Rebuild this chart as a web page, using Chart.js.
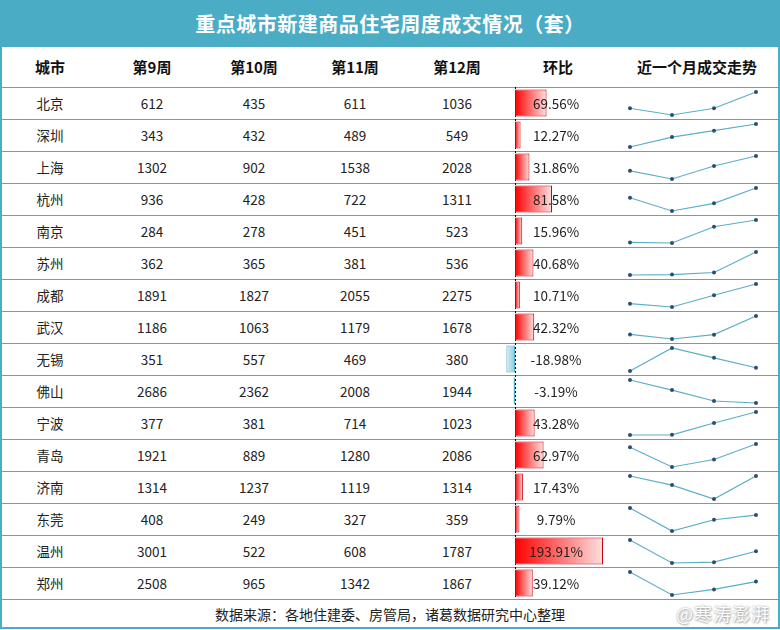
<!DOCTYPE html>
<html>
<head>
<meta charset="utf-8">
<script src="https://cdn.jsdelivr.net/npm/chart.js@4/dist/chart.umd.min.js"></script>
<style>
  html, body { margin: 0; padding: 0; background: #fff; }
  #board {
    position: relative; width: 780px; height: 630px; overflow: hidden;
    font-family: "Noto Sans CJK SC", "Noto Sans", sans-serif; color: #222;
  }
  #title {
    position: absolute; left: 0; top: 0; width: 780px; height: 47px;
    background: #4BACC6; color: #fff; font-size: 20px; font-weight: bold;
    line-height: 47px; text-align: center; letter-spacing: 0.5px;
  }
  .frame {
    position: absolute; left: 0; top: 47px; width: 776px; height: 580px;
    border: 2px solid #4BACC6; border-top: none;
  }
  .hline { position: absolute; left: 0; width: 780px; height: 0; border-top: 1px solid #4BACC6; }
  .cell { position: absolute; text-align: center; white-space: nowrap; }
  .head { font-weight: bold; font-size: 15px; color: #111; }
  .data { font-size: 13.5px; }
  canvas { position: absolute; }
  #source { position: absolute; left: 0; top: 600px; width: 780px; height: 28px; line-height: 28px; text-align: center; font-size: 14px; color: #222; }
  #mark {
    position: absolute; left: 676px; top: 600px; font-size: 18px; color: #fff;
    text-shadow: 0 0 2px #999, 1px 1px 2px #aaa; letter-spacing: 1px;
  }
</style>
</head>
<body>
<div id="board">
  <div id="title">重点城市新建商品住宅周度成交情况（套）</div>
  <div class="frame"></div>
  <div id="source">数据来源：各地住建委、房管局，诸葛数据研究中心整理</div>
  <div id="mark">@寒涛澎湃</div>
</div>
<script>
// table data
const cities = ['北京', '深圳', '上海', '杭州', '南京', '苏州', '成都', '武汉', '无锡', '佛山', '宁波', '青岛', '济南', '东莞', '温州', '郑州'];
const weeks = ['第9周', '第10周', '第11周', '第12周'];
const week9 = [612, 343, 1302, 936, 284, 362, 1891, 1186, 351, 2686, 377, 1921, 1314, 408, 3001, 2508];
const week10 = [435, 432, 902, 428, 278, 365, 1827, 1063, 557, 2362, 381, 889, 1237, 249, 522, 965];
const week11 = [611, 489, 1538, 722, 451, 381, 2055, 1179, 469, 2008, 714, 1280, 1119, 327, 608, 1342];
const week12 = [1036, 549, 2028, 1311, 523, 536, 2275, 1678, 380, 1944, 1023, 2086, 1314, 359, 1787, 1867];
const huanbi = [69.56, 12.27, 31.86, 81.58, 15.96, 40.68, 10.71, 42.32, -18.98, -3.19, 43.28, 62.97, 17.43, 9.79, 193.91, 39.12];
const headers = ['城市', '第9周', '第10周', '第11周', '第12周', '环比', '近一个月成交走势'];

// layout
const colCenters = [50, 152, 254, 355, 457, 558, 697];
const headTop = 47, rowTop = 87, rowH = 32;
const barRange = { min: -33, max: 213.7 };

const board = document.getElementById('board');

function addDiv(cls, text, x, y, w, h) {
  const d = document.createElement('div');
  d.className = cls;
  d.textContent = text;
  d.style.left = (x - w / 2) + 'px';
  d.style.top = y + 'px';
  d.style.width = w + 'px';
  d.style.height = h + 'px';
  d.style.lineHeight = h + 'px';
  board.appendChild(d);
}

// header
headers.forEach((h, i) => addDiv('cell head', h, colCenters[i], headTop, 160, rowTop - headTop));

// row lines + text
for (let i = 0; i <= cities.length; i++) {
  const l = document.createElement('div');
  l.className = 'hline';
  l.style.top = (rowTop + i * rowH) + 'px';
  board.appendChild(l);
}
cities.forEach((c, i) => {
  const y = rowTop + i * rowH;
  const vals = [c, week9[i], week10[i], week11[i], week12[i]];
  vals.forEach((v, j) => addDiv('cell data', String(v), colCenters[j], y, 90, rowH));
});

function makeCanvas(x, y, w, h) {
  const cv = document.createElement('canvas');
  cv.width = w; cv.height = h;
  cv.style.left = x + 'px'; cv.style.top = y + 'px';
  cv.style.width = w + 'px'; cv.style.height = h + 'px';
  board.appendChild(cv);
  return cv;
}

// 环比 data bars
const barCanvas = makeCanvas(500, rowTop, 112, rowH * cities.length);

const zeroLine = {
  id: 'zeroLine',
  beforeDatasetsDraw(chart) {
    const ctx = chart.ctx;
    const x = Math.round(chart.scales.x.getPixelForValue(0)) + 0.5;
    ctx.save();
    ctx.strokeStyle = '#000';
    ctx.lineWidth = 1;
    ctx.setLineDash([2, 2]);
    ctx.beginPath();
    ctx.moveTo(x, 0);
    ctx.lineTo(x, chart.height);
    ctx.stroke();
    ctx.restore();
  },
  afterDatasetsDraw(chart) {
    const ctx = chart.ctx;
    const meta = chart.getDatasetMeta(0);
    const cx = (chart.chartArea.left + chart.chartArea.right) / 2;
    ctx.save();
    ctx.font = '13.5px "Noto Sans CJK SC", sans-serif';
    ctx.fillStyle = '#222';
    ctx.textAlign = 'center';
    ctx.textBaseline = 'middle';
    meta.data.forEach((bar, i) => {
      ctx.fillText(huanbi[i].toFixed(2) + '%', cx, bar.y + 1);
    });
    ctx.restore();
  }
};

function barFill(context) {
  const chart = context.chart;
  const v = context.raw;
  if (!chart.chartArea) return v < 0 ? '#9ed3e0' : '#ff0000';
  const sx = chart.scales.x;
  const x0 = sx.getPixelForValue(0);
  const x1 = sx.getPixelForValue(v);
  const g = chart.ctx.createLinearGradient(x0, 0, x1 === x0 ? x0 + 1 : x1, 0);
  if (v < 0) {
    g.addColorStop(0, '#8fcbdc');
    g.addColorStop(1, '#d8eef4');
  } else {
    g.addColorStop(0, '#ff0000');
    g.addColorStop(1, '#fde0e0');
  }
  return g;
}

new Chart(barCanvas, {
  type: 'bar',
  data: {
    labels: cities,
    datasets: [{
      data: huanbi,
      backgroundColor: barFill,
      borderColor: huanbi.map(v => v < 0 ? '#4BACC6' : '#c8000a'),
      borderWidth: 1,
      borderSkipped: false,
      categoryPercentage: 1,
      barPercentage: 0.84
    }]
  },
  options: {
    indexAxis: 'y',
    responsive: false,
    animation: false,
    devicePixelRatio: 1,
    layout: { padding: 0 },
    plugins: { legend: { display: false }, tooltip: { enabled: false } },
    scales: {
      x: { display: false, min: barRange.min, max: barRange.max },
      y: { display: false }
    }
  },
  plugins: [zeroLine]
});

// 近一个月成交走势 sparklines
cities.forEach((c, i) => {
  const series = [week9[i], week10[i], week11[i], week12[i]];
  const cv = makeCanvas(609, rowTop + i * rowH + 1, 168, rowH - 1);
  new Chart(cv, {
    type: 'line',
    data: {
      labels: weeks,
      datasets: [{
        data: series,
        borderColor: '#5aafc6',
        borderWidth: 1.2,
        pointRadius: 2,
        pointBackgroundColor: '#2f4d6e',
        pointBorderWidth: 0,
        tension: 0,
        clip: false
      }]
    },
    options: {
      responsive: false,
      animation: false,
      devicePixelRatio: 1,
      layout: { padding: { left: 21, right: 21, top: 4, bottom: 4 } },
      plugins: { legend: { display: false }, tooltip: { enabled: false } },
      scales: {
        x: { display: false },
        y: { display: false, min: Math.min(...series), max: Math.max(...series) }
      }
    }
  });
});
</script>
</body>
</html>
